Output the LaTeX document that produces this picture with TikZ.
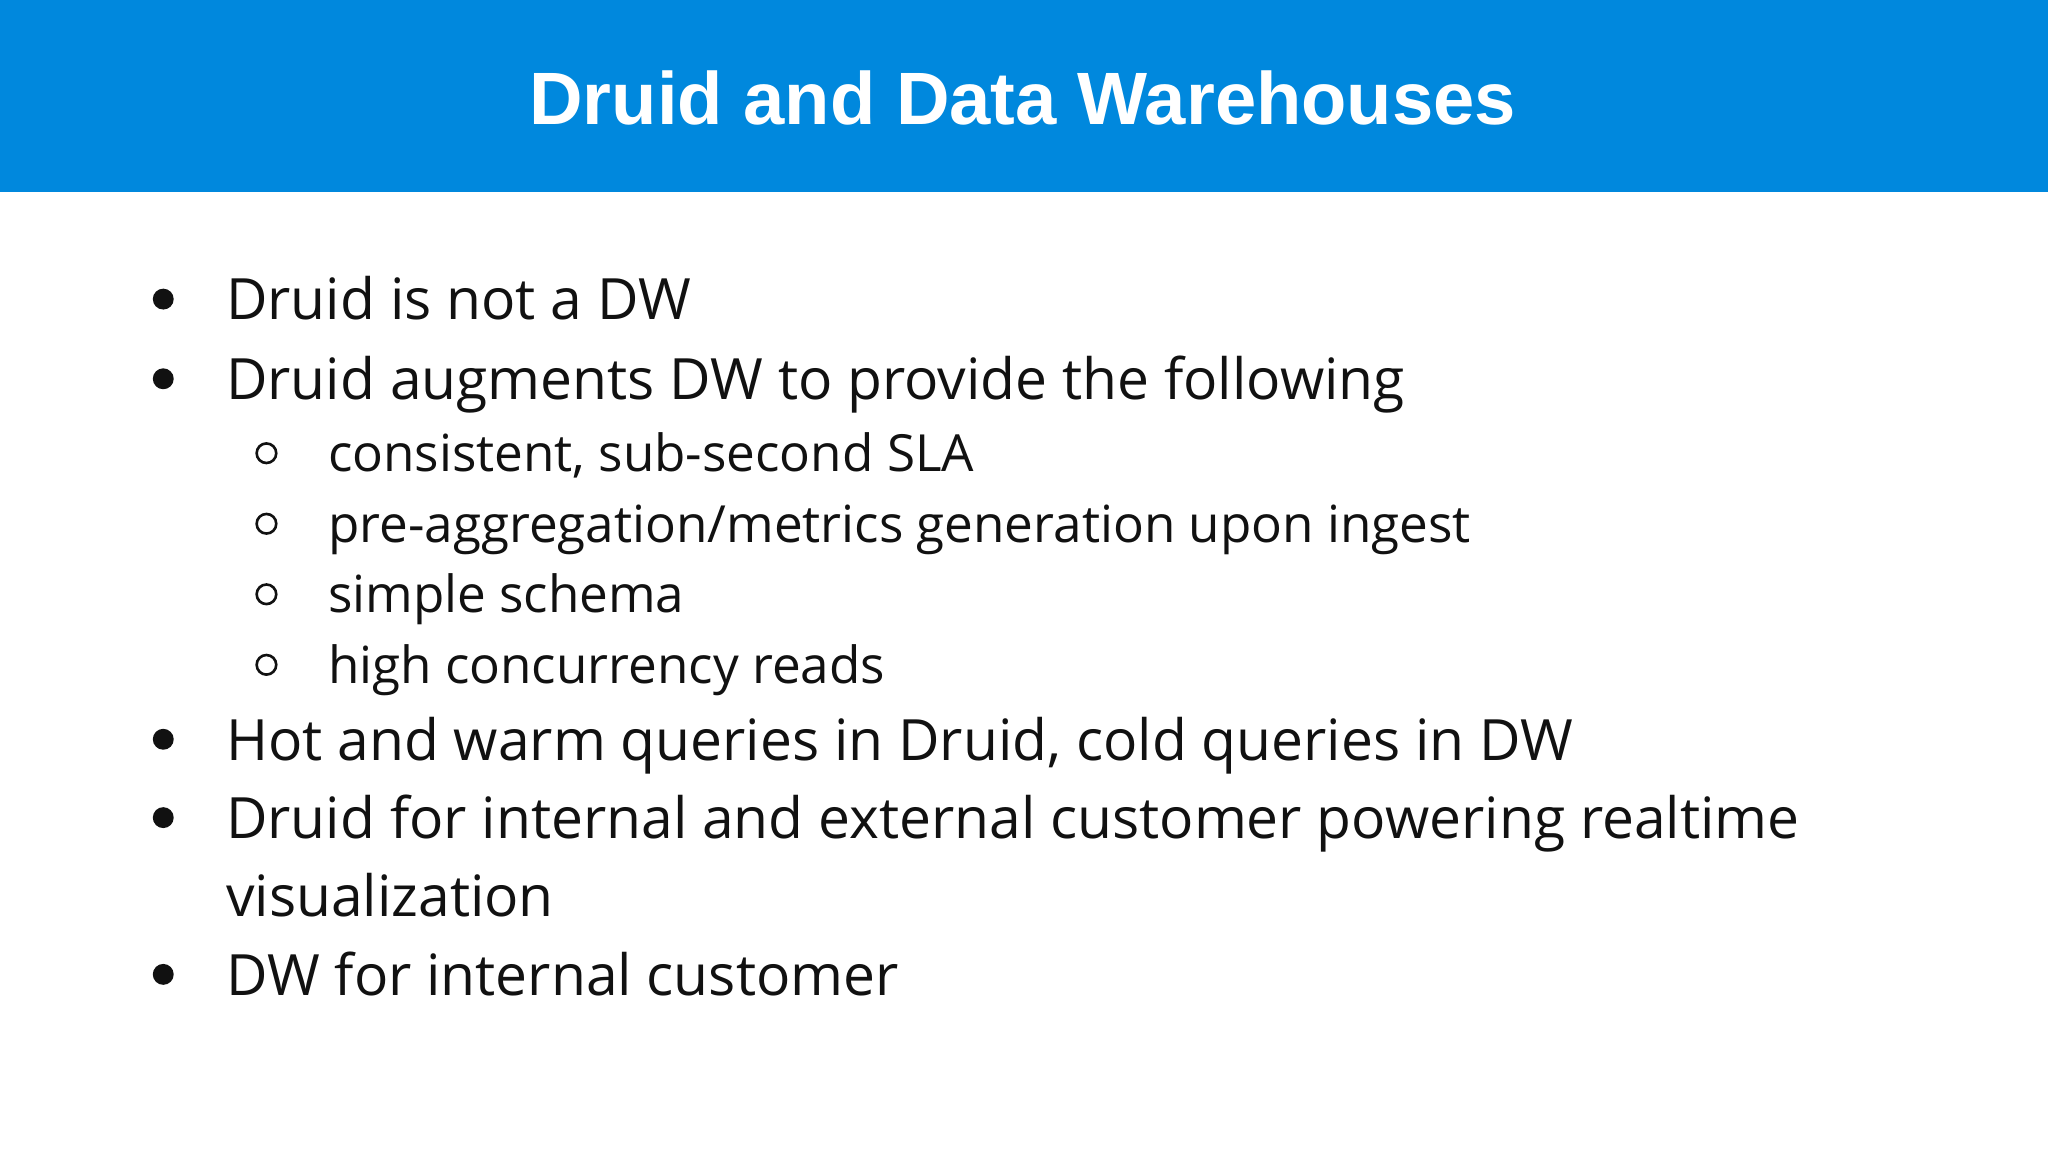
\documentclass[tikz,border=0pt]{standalone}
\usepackage{fontspec}
\setmainfont{Open Sans}
\newfontfamily\titlefont{Liberation Sans}
\definecolor{band}{HTML}{0088DD}
\definecolor{txt}{HTML}{111111}
\begin{document}
\begin{tikzpicture}[x=1pt,y=-1pt,
  main/.style={anchor=base west,inner sep=0,text=txt,font=\fontsize{43.6}{52}\selectfont},
  sub/.style={anchor=base west,inner sep=0,text=txt,font=\fontsize{39.2}{47}\selectfont},
  dot/.style={fill=txt,draw=none},
  ring/.style={draw=txt,line width=2pt}]
\useasboundingbox (0,0) rectangle (1568,882);
\fill[white] (0,0) rectangle (1568,882);
\fill[band] (0,0) rectangle (1568,147);
\node[text=white,font=\titlefont\bfseries\fontsize{56.8}{66}\selectfont,inner sep=0] (title) at (783,75) {Druid and Data Warehouses};
% main bullets
\foreach \y/\t [count=\i] in {245/Druid is not a DW,306/Druid augments DW to provide the following,582/{Hot and warm queries in Druid, cold queries in DW},642/Druid for internal and external customer powering realtime,762/DW for internal customer}{
  \fill[dot] (125,\y-16) circle (8);
  \node[main] (m\i) at (173,\y) {\t};
}
\node[main] (m6) at (173,702) {visualization};
% sub bullets
\foreach \y/\t [count=\i] in {361/{consistent, sub-second SLA},415/{pre-aggregation/metrics generation upon ingest},469/simple schema,523/high concurrency reads}{
  \draw[ring] (204,\y-14) circle (7.5);
  \node[sub] (s\i) at (251,\y) {\t};
}
\end{tikzpicture}
\end{document}
